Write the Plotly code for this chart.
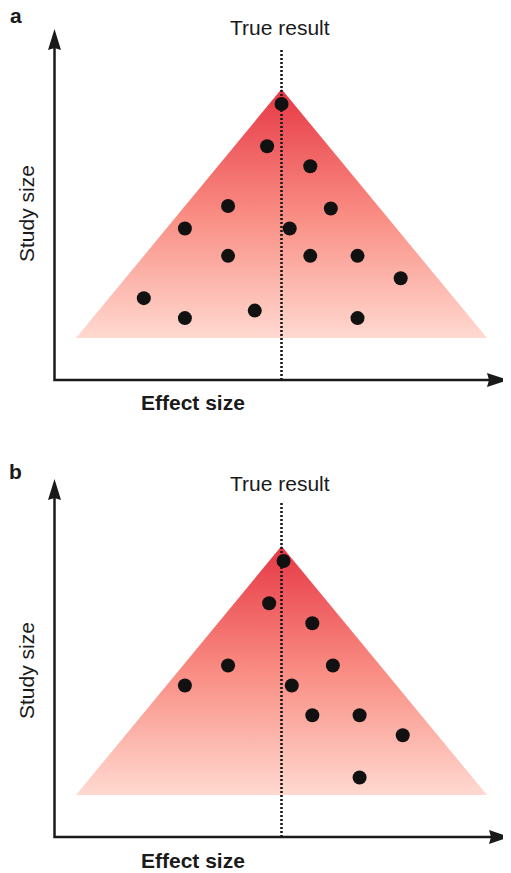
import plotly.graph_objects as go

# ---------------- data ----------------
# Effect size: 0 = true result, funnel half-width = 1 ; Study size: 0 = funnel base, 1 = apex
funnel_x = [-1.0, 0.0, 1.0, -1.0]
funnel_y = [0.0, 1.0, 0.0, 0.0]

a_effect = [0.00, -0.07, 0.14, -0.26, 0.24, -0.47, 0.04, -0.26, 0.14, 0.37, 0.58, -0.67, -0.47, -0.13, 0.37]
a_study = [0.94, 0.77, 0.69, 0.53, 0.52, 0.44, 0.44, 0.33, 0.33, 0.33, 0.24, 0.16, 0.08, 0.11, 0.08]

b_effect = [0.01, -0.06, 0.15, -0.26, 0.25, -0.47, 0.05, 0.15, 0.38, 0.59, 0.38]
b_study = [0.94, 0.77, 0.69, 0.52, 0.52, 0.44, 0.44, 0.32, 0.32, 0.24, 0.07]

true_result = 0.0
panel_labels = ["a", "b"]
line_label = "True result"
x_title = "Effect size"
y_title = "Study size"

# ---------------- geometry ----------------
# the page body has an 8px margin, so the figure is drawn 8px right/down
PAGE_W, PAGE_H = 511, 873
OFF = 8
W, H = PAGE_W - OFF, PAGE_H - OFF
FONT = "Liberation Sans, Arial, Helvetica, sans-serif"
INK = "#1a1a1a"


def px(xp):
    return (xp - OFF) / W


def py(yp):
    return 1 - (yp - OFF) / H


# x: page pixel = 281.5 + 205.5 * x ; y: page pixel = base - 249 * y
XR = [(OFF - 281.5) / 205.5, (PAGE_W - 281.5) / 205.5]
YR = [(338 - 400) / 249, (338 - 20) / 249]
x_origin = (54.5 - 281.5) / 205.5
y_origin = (338 - 380) / 249

fig = go.Figure()

panels = [
    dict(xa="x", ya="y", ex=a_effect, sy=a_study, ytip=(338 - 29) / 249, xtip=(508 - 281.5) / 205.5,
         line_top=(338 - 48) / 249, dom=[py(400), py(20)], off=0),
    dict(xa="x2", ya="y2", ex=b_effect, sy=b_study, ytip=(795 - 479) / 249, xtip=(510 - 281.5) / 205.5,
         line_top=(795 - 503) / 249, dom=[py(857), py(477)], off=457),
]

shapes = []
annotations = []
for i, p in enumerate(panels):
    # funnel with vertical gradient
    fig.add_trace(go.Scatter(
        x=funnel_x, y=funnel_y, xaxis=p["xa"], yaxis=p["ya"], mode="lines",
        line=dict(width=0), fill="toself", fillcolor="#F98A80",
        fillgradient=dict(type="vertical",
                          colorscale=[[0, "#FFD9D0"], [0.5, "#F98C82"], [1, "#E63845"]]),
        hoverinfo="skip", showlegend=False))
    # true result dotted line
    fig.add_trace(go.Scatter(
        x=[true_result, true_result], y=[y_origin, p["line_top"]], xaxis=p["xa"], yaxis=p["ya"],
        mode="lines", line=dict(color=INK, width=2.6, dash="2px,2px"),
        hoverinfo="skip", showlegend=False))
    # axes lines
    fig.add_trace(go.Scatter(
        x=[x_origin, x_origin, p["xtip"] - 0.05], y=[p["ytip"] - 0.04, y_origin, y_origin],
        xaxis=p["xa"], yaxis=p["ya"], mode="lines",
        line=dict(color=INK, width=2.5), hoverinfo="skip", showlegend=False))
    # studies
    fig.add_trace(go.Scatter(
        x=p["ex"], y=p["sy"], xaxis=p["xa"], yaxis=p["ya"], mode="markers",
        marker=dict(size=14, color="#111111", line=dict(width=0)),
        showlegend=False))
    xref, yref = p["xa"], p["ya"]
    # arrow heads
    shapes.append(dict(type="path", xref=xref, yref=yref, xsizemode="pixel", ysizemode="pixel",
                       xanchor=x_origin, yanchor=p["ytip"],
                       path="M0,0 L-6.5,-21 L0,-19 L6.5,-21 Z",
                       fillcolor=INK, line=dict(width=0)))
    shapes.append(dict(type="path", xref=xref, yref=yref, xsizemode="pixel", ysizemode="pixel",
                       xanchor=p["xtip"], yanchor=y_origin,
                       path="M0,0 L-21,7 L-19,0 L-21,-7 Z",
                       fillcolor=INK, line=dict(width=0)))
    off = p["off"]
    annotations += [
        dict(text="<b>%s</b>" % panel_labels[i], x=px(15.5), y=py(15 + off),
             xref="paper", yref="paper", showarrow=False, xanchor="center", yanchor="middle",
             font=dict(family=FONT, size=21, color=INK)),
        dict(text=line_label, x=px(280), y=py(27 + off),
             xref="paper", yref="paper", showarrow=False, xanchor="center", yanchor="middle",
             font=dict(family=FONT, size=21, color=INK)),
        dict(text=y_title, x=px(26), y=py(214 + off), textangle=-90,
             xref="paper", yref="paper", showarrow=False, xanchor="center", yanchor="middle",
             font=dict(family=FONT, size=21, color=INK)),
        dict(text="<b>%s</b>" % x_title, x=px(192.5), y=py(403 + off),
             xref="paper", yref="paper", showarrow=False, xanchor="center", yanchor="middle",
             font=dict(family=FONT, size=21, color=INK)),
    ]

ax_common = dict(visible=False, showgrid=False, zeroline=False, fixedrange=True)
fig.update_layout(
    width=W, height=H, margin=dict(l=0, r=0, t=0, b=0),
    paper_bgcolor="white", plot_bgcolor="white",
    xaxis=dict(domain=[0, 1], range=XR, anchor="y", **ax_common),
    yaxis=dict(domain=panels[0]["dom"], range=YR, anchor="x", **ax_common),
    xaxis2=dict(domain=[0, 1], range=XR, anchor="y2", **ax_common),
    yaxis2=dict(domain=panels[1]["dom"], range=YR, anchor="x2", **ax_common),
    shapes=shapes, annotations=annotations, showlegend=False,
)

fig.write_html("out.html")
